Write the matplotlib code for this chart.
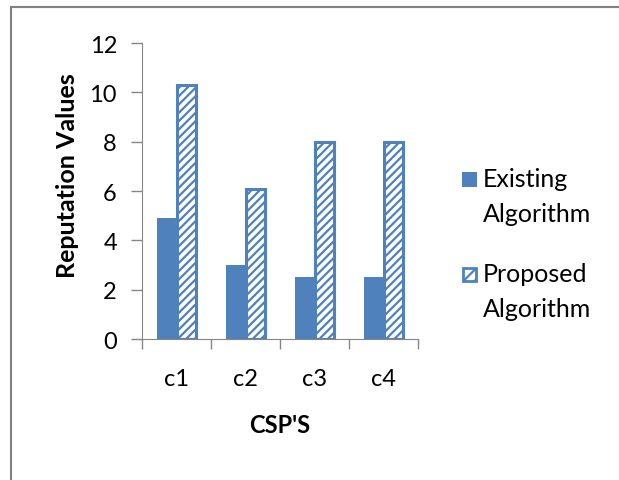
import numpy as np
import matplotlib.pyplot as plt
from matplotlib.lines import Line2D
from matplotlib.patches import Rectangle

plt.rcParams['font.family'] = ['Lato', 'DejaVu Sans']
plt.rcParams['hatch.color'] = '#4F81BD'
plt.rcParams['hatch.linewidth'] = 1.6

csps = ['c1', 'c2', 'c3', 'c4']
existing = [4.9, 3.0, 2.5, 2.5]
proposed = [10.3, 6.1, 8.0, 8.0]
yticks = [0, 2, 4, 6, 8, 10, 12]
series_names = ['Existing\nAlgorithm', 'Proposed\nAlgorithm']

blue = '#4F81BD'
axis_grey = '#868686'
W, H = 619, 481

fig = plt.figure(figsize=(6.19, 4.81), dpi=100)
ax = fig.add_axes([0.2294, 0.2931, 0.4459, 0.6154])

x = np.arange(len(csps))
w = 0.28
ax.bar(x - w / 2, existing, w, color=blue, edgecolor=blue, linewidth=0)
ax.bar(x + w / 2, proposed, w, facecolor='white', edgecolor=blue, linewidth=2.2,
       hatch='////')

ax.set_xlim(-0.5, len(csps) - 0.5)
ax.set_ylim(0, 12)
ax.set_yticks(yticks)
ax.set_yticklabels([str(v) for v in yticks], fontsize=17)
ax.set_xticks(x)
ax.set_xticklabels(csps, fontsize=17)
ax.tick_params(axis='x', length=0, pad=21)
ax.set_xticks(np.arange(len(csps) + 1) - 0.5, minor=True)
ax.tick_params(axis='x', which='minor', length=7, color=axis_grey, width=1)
ax.tick_params(axis='y', length=8, color=axis_grey, width=1, pad=10)

for side in ['top', 'right']:
    ax.spines[side].set_visible(False)
for side in ['left', 'bottom']:
    ax.spines[side].set_color(axis_grey)

ax.set_ylabel('Reputation Values', fontsize=18, fontweight='bold')
ax.yaxis.set_label_coords(-0.23, 0.554)
ax.set_xlabel("CSP'S", fontsize=17, fontweight='bold', labelpad=17)

# legend drawn by hand: square key beside first line of a two-line label
for (top_px, name, style) in [(173, series_names[0], 'solid'),
                              (268, series_names[1], 'hatch')]:
    if style == 'solid':
        key = Rectangle((462 / W, 1 - (top_px + 15) / H), 15 / W, 15 / H,
                        transform=fig.transFigure, facecolor=blue,
                        edgecolor=blue, linewidth=0)
    else:
        key = Rectangle((463 / W, 1 - (top_px + 14) / H), 13 / W, 13 / H,
                        transform=fig.transFigure, facecolor='white',
                        edgecolor=blue, linewidth=2, hatch='///')
    fig.add_artist(key)
    fig.text(483 / W, 1 - (top_px - 5) / H, name, fontsize=18, va='top',
             ha='left', linespacing=1.65)

# outer frame (top and left edges visible)
fig.add_artist(Line2D([0.018, 1.0], [0.983, 0.983], transform=fig.transFigure,
                      color='#808080', linewidth=1.5))
fig.add_artist(Line2D([0.018, 0.018], [0.0, 0.983], transform=fig.transFigure,
                      color='#808080', linewidth=1.5))

fig.savefig('out.png', dpi=100)
